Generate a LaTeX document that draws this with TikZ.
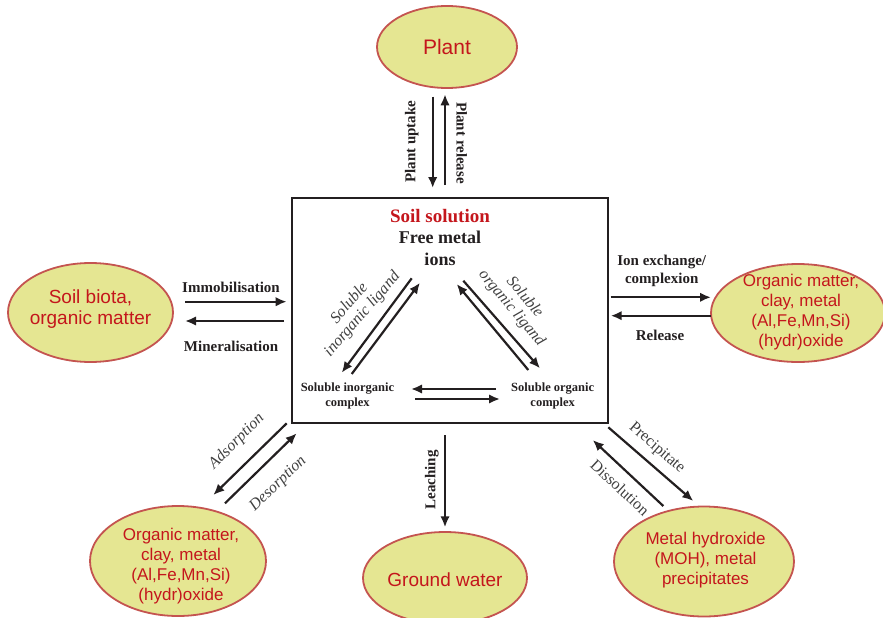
\documentclass[tikz,border=0pt]{standalone}
\usepackage{fontspec}
\setmainfont{Liberation Serif}
\setsansfont{Liberation Sans}
\usetikzlibrary{arrows.meta,shapes.geometric}
\definecolor{ellfill}{RGB}{229,230,146}
\definecolor{ellline}{RGB}{196,84,80}
\definecolor{ellred}{RGB}{196,22,28}
\definecolor{ink}{RGB}{35,31,32}
\definecolor{greytext}{RGB}{64,64,64}
\tikzset{
  blob/.style={ellipse,fill=ellfill,draw=ellline,line width=1.8pt,inner sep=0pt},
  blobtext/.style={text=ellred,align=center,inner sep=0pt,font=\sffamily\fontsize{17}{20}\selectfont},
  flow/.style={draw=ink,line width=2.2pt,-{Latex[length=11pt,width=9.5pt]}},
  boldlab/.style={text=ink,align=center,inner sep=0pt,font=\bfseries\fontsize{15}{18}\selectfont},
  greylab/.style={text=greytext,align=center,inner sep=0pt,font=\fontsize{16}{17}\selectfont},
  itlab/.style={text=greytext,align=center,inner sep=0pt,font=\itshape\fontsize{16}{17}\selectfont},
  cplx/.style={text=ink,align=center,inner sep=0pt,font=\bfseries\fontsize{12.5}{15}\selectfont},
}
\begin{document}
\begin{tikzpicture}[x=1pt,y=-1pt]
\useasboundingbox (0,0) rectangle (883,618);
\begin{scope}
\clip (0,0) rectangle (883,618);
% ellipses
\node[blob,minimum width=140pt,minimum height=82pt] (plant) at (447,47) {};
\node[blob,minimum width=165pt,minimum height=99pt] (biota) at (90.5,312.5) {};
\node[blob,minimum width=174pt,minimum height=98pt] (orgR) at (798,313) {};
\node[blob,minimum width=176pt,minimum height=110pt] (orgL) at (178,561) {};
\node[blob,minimum width=164pt,minimum height=92pt] (ground) at (445,578) {};
\node[blob,minimum width=180pt,minimum height=110pt] (moh) at (704,561.5) {};
\end{scope}
\node[blobtext,font=\sffamily\fontsize{21}{24}\selectfont] (plantT) at (447,47) {Plant};
\node[blobtext,font=\sffamily\fontsize{19}{21}\selectfont] (biotaT) at (90.5,309) {Soil biota,\\organic matter};
\node[blobtext] (orgRT) at (801,312) {Organic matter,\\clay, metal\\(Al,Fe,Mn,Si)\\(hydr)oxide};
\node[blobtext] (orgLT) at (181,566) {Organic matter,\\clay, metal\\(Al,Fe,Mn,Si)\\(hydr)oxide};
\node[blobtext,font=\sffamily\fontsize{19}{21}\selectfont] (groundT) at (445,580) {Ground water};
\node[blobtext] (mohT) at (705.5,560) {Metal hydroxide\\(MOH), metal\\precipitates};
% central box
\node[draw=ink,line width=2pt,minimum width=316pt,minimum height=225pt,inner sep=0pt] (box) at (450,310.5) {};
\node[text=ellred,inner sep=0pt,font=\bfseries\fontsize{19}{22}\selectfont] (soil) at (440,216) {Soil solution};
\node[text=ink,align=center,inner sep=0pt,font=\bfseries\fontsize{18}{22}\selectfont] (free) at (440,248.5) {Free metal\\ions};
\node[cplx] (inorg) at (347.5,395.5) {Soluble inorganic\\complex};
\node[cplx] (org) at (552.7,395.5) {Soluble organic\\complex};
% arrow end coordinates
\coordinate (p1a) at (432.7,96.7); \coordinate (p1b) at (432.7,188);
\coordinate (p2a) at (445,185); \coordinate (p2b) at (445,94.3);
\coordinate (l1a) at (185,301.7); \coordinate (l1b) at (286.7,301.7);
\coordinate (l2a) at (284,321); \coordinate (l2b) at (185,321);
\coordinate (r1a) at (610.7,297.3); \coordinate (r1b) at (711,297.3);
\coordinate (r2a) at (711,315.7); \coordinate (r2b) at (610.7,315.7);
\coordinate (gwa) at (445,435); \coordinate (gwb) at (445,527.3);
\coordinate (bl1a) at (286.7,423.3); \coordinate (bl1b) at (213.3,495);
\coordinate (bl2a) at (225,503.3); \coordinate (bl2b) at (296.7,433.3);
\coordinate (br1a) at (608.3,427.3); \coordinate (br1b) at (693.3,501);
\coordinate (br2a) at (663.3,506); \coordinate (br2b) at (592.7,440);
\coordinate (h1a) at (496,389); \coordinate (h1b) at (411,389);
\coordinate (h2a) at (415,399); \coordinate (h2b) at (500,399);
\coordinate (d1a) at (411.7,278.3); \coordinate (d1b) at (341.7,372.7);
\coordinate (d2a) at (351.7,374); \coordinate (d2b) at (420,282.7);
\coordinate (e1a) at (528.3,370); \coordinate (e1b) at (456.7,284);
\coordinate (e2a) at (463.3,280.7); \coordinate (e2b) at (540,368.3);
% arrows
\draw[flow] (p1a) -- (p1b);
\draw[flow] (p2a) -- (p2b);
\draw[flow] (l1a) -- (l1b);
\draw[flow] (l2a) -- (l2b);
\draw[flow] (r1a) -- (r1b);
\draw[flow] (r2a) -- (r2b);
\draw[flow] (gwa) -- (gwb);
\draw[flow] (bl1a) -- (bl1b);
\draw[flow] (bl2a) -- (bl2b);
\draw[flow] (br1a) -- (br1b);
\draw[flow] (br2a) -- (br2b);
\draw[flow] (h1a) -- (h1b);
\draw[flow] (h2a) -- (h2b);
\draw[flow] (d1a) -- (d1b);
\draw[flow] (d2a) -- (d2b);
\draw[flow] (e1a) -- (e1b);
\draw[flow] (e2a) -- (e2b);
% labels
\node[boldlab,rotate=90] (lup) at (411.7,141.7) {Plant uptake};
\node[boldlab,rotate=-90] (lrel) at (461.7,143) {Plant release};
\node[boldlab] (limm) at (231,287) {Immobilisation};
\node[boldlab] (lmin) at (231,346) {Mineralisation};
\node[boldlab] (lion) at (661.7,271) {Ion exchange/\\complexion};
\node[boldlab] (lrls) at (660,335) {Release};
\node[boldlab,rotate=90] (lleach) at (431.7,480) {Leaching};
\node[greylab,rotate=-41] (lprec) at (656.7,448.3) {Precipitate};
\node[greylab,rotate=-43] (ldiss) at (620,487.5) {Dissolution};
\node[itlab,rotate=45] (lads) at (236.7,441.7) {Adsorption};
\node[itlab,rotate=44] (ldes) at (278.3,484) {Desorption};
\node[itlab,rotate=49] (linl) at (356,309) {Soluble\\inorganic ligand};
\node[itlab,rotate=-50] (lorl) at (518,303) {Soluble\\organic ligand};
\end{tikzpicture}
\end{document}
